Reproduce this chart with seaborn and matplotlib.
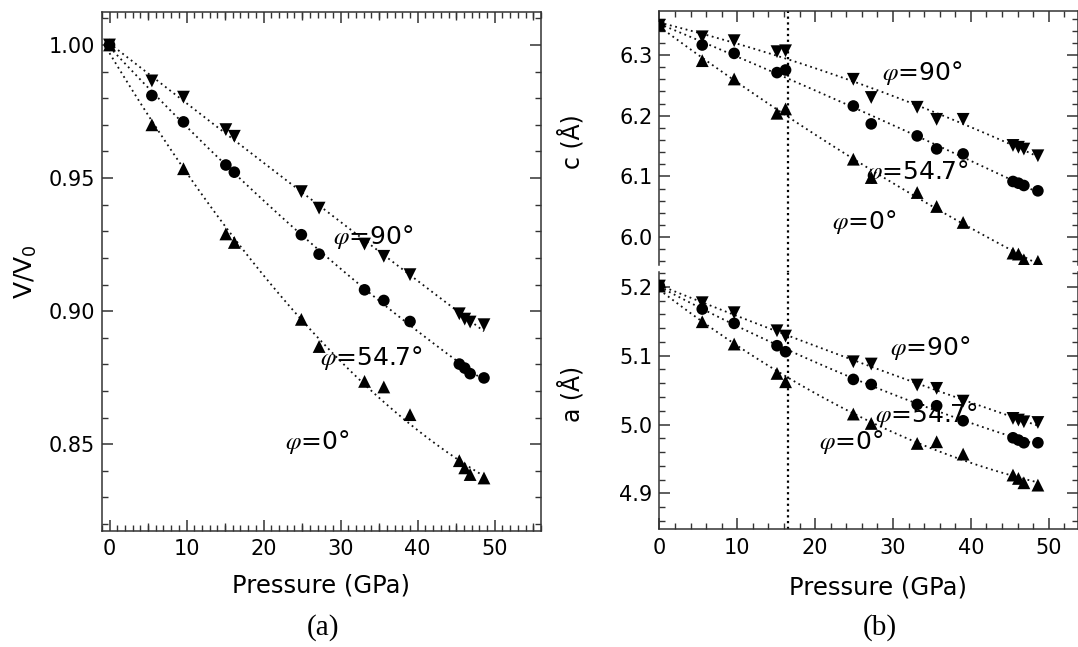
import numpy as np
import pandas as pd
import matplotlib
matplotlib.use("Agg")
import matplotlib.pyplot as plt
import seaborn as sns
from matplotlib.ticker import MultipleLocator, FormatStrFormatter

# ---------------- data ----------------
pressure = [0, 5.5, 9.6, 15.1, 16.2, 24.9, 27.2, 33.1, 35.6, 39.0, 45.4, 46.1, 46.8, 48.6]

vv_90 = [1.000, 0.9865, 0.9804, 0.9682, 0.9657, 0.9449, 0.9387, 0.9252, 0.9206, 0.9137, 0.8990, 0.8970, 0.8959, 0.8949]
vv_547 = [1.000, 0.9810, 0.9711, 0.9549, 0.9522, 0.9287, 0.9214, 0.9080, 0.9040, 0.8961, 0.8801, 0.8786, 0.8765, 0.8749]
vv_0 = [1.000, 0.9700, 0.9535, 0.9290, 0.9258, 0.8969, 0.8867, 0.8736, 0.8715, 0.8611, 0.8438, 0.8411, 0.8386, 0.8373]

c_90 = [6.349, 6.330, 6.3236, 6.3055, 6.307, 6.260, 6.230, 6.2139, 6.194, 6.194, 6.151, 6.148, 6.145, 6.134]
c_547 = [6.349, 6.3165, 6.3027, 6.271, 6.2753, 6.216, 6.1865, 6.1667, 6.1453, 6.137, 6.0916, 6.0888, 6.085, 6.0762]
c_0 = [6.349, 6.2907, 6.2605, 6.204, 6.2111, 6.1283, 6.0981, 6.0734, 6.0504, 6.0241, 5.9736, 5.972, 5.9626, 5.960]

a_90 = [5.201, 5.1768, 5.1623, 5.1361, 5.1284, 5.0911, 5.0878, 5.0573, 5.0525, 5.034, 5.0089, 5.0065, 5.004, 5.003]
a_547 = [5.201, 5.1676, 5.1468, 5.1144, 5.1057, 5.0655, 5.0582, 5.0292, 5.0273, 5.0055, 4.9808, 4.9775, 4.9736, 4.9736]
a_0 = [5.201, 5.1492, 5.1168, 5.0742, 5.0621, 5.0152, 5.0016, 4.9726, 4.975, 4.9571, 4.9267, 4.9218, 4.9155, 4.9121]

angles = ["90", "54.7", "0"]
angle_labels = [r"$\varphi$=90°", r"$\varphi$=54.7°", r"$\varphi$=0°"]
transition_pressure = 16.5

# ---------------- style ----------------
sns.set_style("ticks")
plt.rcParams["font.family"] = ["DejaVu Sans"]
plt.rcParams["text.color"] = "black"
plt.rcParams["axes.labelcolor"] = "black"
plt.rcParams["axes.edgecolor"] = "#333333"
plt.rcParams["axes.linewidth"] = 1.1
plt.rcParams["xtick.color"] = "#333333"
plt.rcParams["ytick.color"] = "#333333"
plt.rcParams["xtick.labelcolor"] = "black"
plt.rcParams["ytick.labelcolor"] = "black"

W, H = 1078, 647
fig = plt.figure(figsize=(W / 100, H / 100), dpi=100)


def frac(x0, x1, ytop, ybot):
    return [x0 / W, 1 - ybot / H, (x1 - x0) / W, (ybot - ytop) / H]


axA = fig.add_axes(frac(101.8, 541, 11.7, 530.7))
axC = fig.add_axes(frac(659.4, 1078, 10.7, 265))
axL = fig.add_axes(frac(659.4, 1078, 271.7, 529.3))

markers = {"90": "v", "54.7": "o", "0": "^"}
sizes = {"90": 85, "54.7": 70, "0": 85}
line_kws = dict(color="#111111", lw=1.3, ls=(0, (1, 2.0)))


def draw(ax, series):
    df = pd.DataFrame({
        "pressure": np.tile(pressure, len(series)),
        "value": np.concatenate([np.asarray(s) for s in series]),
        "angle": np.repeat(angles, len(pressure)),
    })
    for ang in angles:
        sub = df[df["angle"] == ang]
        sns.regplot(data=sub, x="pressure", y="value", order=2, ci=None,
                    scatter=False, line_kws=line_kws, ax=ax, truncate=True)
    for ang in angles:
        sub = df[df["angle"] == ang]
        sns.scatterplot(data=sub, x="pressure", y="value", marker=markers[ang],
                        s=sizes[ang], color="black", edgecolor="none",
                        legend=False, ax=ax, zorder=3)
    ax.set_xlabel("")
    ax.set_ylabel("")


draw(axA, [vv_90, vv_547, vv_0])
draw(axC, [c_90, c_547, c_0])
draw(axL, [a_90, a_547, a_0])

# ---------------- panel (a) axes ----------------
axA.set_xlim(-1, 56)
axA.set_ylim(0.8175, 1.0125)
axA.xaxis.set_major_locator(MultipleLocator(10))
axA.xaxis.set_minor_locator(MultipleLocator(1))
axA.yaxis.set_major_locator(MultipleLocator(0.05))
axA.yaxis.set_minor_locator(MultipleLocator(0.01))
axA.yaxis.set_major_formatter(FormatStrFormatter("%.2f"))
axA.tick_params(which="both", direction="in", top=True, right=True)
axA.tick_params(which="major", length=8, width=1.1, labelsize=15)
axA.tick_params(which="minor", length=4, width=1.0)
axA.tick_params(axis="x", which="major", pad=6)
axA.tick_params(axis="y", which="major", pad=5)
for loc in ("bottom", "top"):
    sec = axA.secondary_xaxis(loc)
    sec.set_xticks([5, 15, 25, 35, 45, 55])
    sec.tick_params(direction="in", length=6, width=1.0, labelbottom=False,
                    labeltop=False, color="#333333")
    for sp in sec.spines.values():
        sp.set_visible(False)
axA.set_xlabel("Pressure (GPa)", fontsize=17.5)
axA.xaxis.set_label_coords(0.5, -0.082)
axA.set_ylabel("V/V$_0$", fontsize=18)
axA.yaxis.set_label_coords(-0.143, 0.5)

# ---------------- panel (b) axes ----------------
for ax in (axC, axL):
    ax.set_xlim(0, 53.75)
    ax.xaxis.set_major_locator(MultipleLocator(10))
    ax.xaxis.set_minor_locator(MultipleLocator(2))
    ax.yaxis.set_major_locator(MultipleLocator(0.1))
    ax.yaxis.set_minor_locator(MultipleLocator(0.02))
    ax.yaxis.set_major_formatter(FormatStrFormatter("%.1f"))
    ax.tick_params(which="both", direction="in", right=True)
    ax.tick_params(which="major", length=8, width=1.1, labelsize=15)
    ax.tick_params(which="minor", length=4, width=1.0)
    ax.tick_params(axis="x", which="major", pad=6)
    ax.tick_params(axis="y", which="major", pad=5)

axC.set_ylim(5.954, 6.373)
axC.spines["bottom"].set_visible(False)
axC.tick_params(which="both", bottom=False, top=True, labelbottom=False)

axL.set_ylim(4.848, 5.2218)
axL.spines["top"].set_visible(False)
axL.tick_params(which="both", top=False, bottom=True)

axC.set_ylabel("c (Å)", fontsize=17)
axC.yaxis.set_label_coords(-0.178, 0.484)
axL.set_ylabel("a (Å)", fontsize=17)
axL.yaxis.set_label_coords(-0.178, 0.525)
axL.set_xlabel("Pressure (GPa)", fontsize=17.5)
axL.xaxis.set_label_coords(0.522, -0.18)

vline_kws = dict(color="black", lw=1.6, ls=(0, (1, 1.6)))
axC.axvline(transition_pressure, ymin=-0.03, ymax=1, clip_on=False, **vline_kws)
axL.axvline(transition_pressure, **vline_kws)

# ---------------- annotations ----------------
ann_kw = dict(fontsize=18, ha="center", va="center", math_fontfamily="stix",
              color="black")
posA = [(0.6175, 0.566), (0.613, 0.333), (0.49, 0.171)]
posC = [(0.627, 0.755), (0.615, 0.366), (0.489, 0.169)]
posL = [(0.646, 0.704), (0.637, 0.444), (0.458, 0.339)]
for ax, pos in ((axA, posA), (axC, posC), (axL, posL)):
    for lab, (px, py) in zip(angle_labels, pos):
        ax.text(px, py, lab, transform=ax.transAxes, zorder=5, **ann_kw)

fig.text(323 / W, 1 - 628 / H, "(a)", ha="center", va="center",
         fontsize=21, family="Liberation Serif")
fig.text(880 / W, 1 - 628 / H, "(b)", ha="center", va="center",
         fontsize=21, family="Liberation Serif")

fig.savefig("out.png", dpi=100)
